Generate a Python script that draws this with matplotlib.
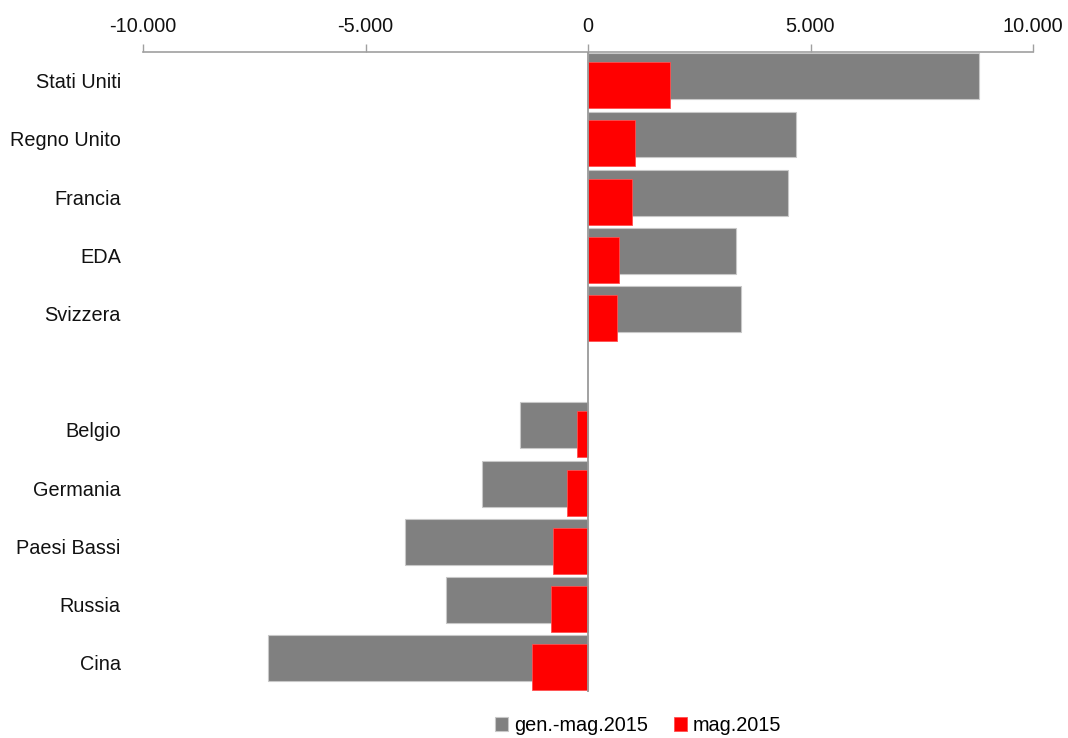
import matplotlib
matplotlib.use('Agg')

import matplotlib.pyplot as plt
from matplotlib.ticker import FuncFormatter
import numpy as np

plt.rcParams['font.family'] = ['Liberation Sans', 'DejaVu Sans']

countries = ['Stati Uniti', 'Regno Unito', 'Francia', 'EDA', 'Svizzera', '',
             'Belgio', 'Germania', 'Paesi Bassi', 'Russia', 'Cina']
gen_mag = [8790, 4678, 4485, 3317, 3437, np.nan,
           -1534, -2374, -4117, -3202, -7193]
mag = [1834, 1062, 981, 697, 660, np.nan,
       -254, -479, -786, -831, -1264]
series_names = ['gen.-mag.2015', 'mag.2015']

fig = plt.figure(figsize=(10.68, 7.38), dpi=100)
ax = fig.add_axes([143/1068, 1 - 691.7/738, 890/1068, 640/738])

y = np.arange(len(countries))
h = 0.79
off = 0.077
ax.barh(y - off, gen_mag, height=h, color='#808080', edgecolor='#c8c8c8',
        linewidth=0.8, label=series_names[0], zorder=2)
ax.barh(y + off, mag, height=h, color='#ff0000', edgecolor='#ff5050',
        linewidth=0.6, label=series_names[1], zorder=3)
ax.axvline(0, color='#9a9a9a', linewidth=1.3, zorder=4)

ax.set_xlim(-10000, 10000)
ax.set_ylim(len(countries) - 0.5, -0.5)
ax.set_xticks([-10000, -5000, 0, 5000, 10000])
ax.xaxis.set_major_formatter(FuncFormatter(lambda v, p: f'{int(v):,}'.replace(',', '.')))
ax.xaxis.tick_top()
ax.tick_params(axis='x', direction='out', length=6, width=1, color='#a0a0a0',
               labelsize=14.3, pad=5, labelcolor='#111111')
ax.set_yticks(y)
ax.set_yticklabels(countries)
ax.tick_params(axis='y', length=0, labelsize=14.3, pad=16, labelcolor='#111111')

for s in ['left', 'right', 'bottom']:
    ax.spines[s].set_visible(False)
ax.spines['top'].set_color('#a0a0a0')
ax.spines['top'].set_linewidth(1.2)

fig.legend(loc='center', bbox_to_anchor=(638/1068, 1 - 725.5/738), ncol=2,
           frameon=False, fontsize=14.3, handlelength=0.67, handleheight=0.67,
           handletextpad=0.3, columnspacing=1.3, borderpad=0)

fig.savefig('out.png', dpi=100)
